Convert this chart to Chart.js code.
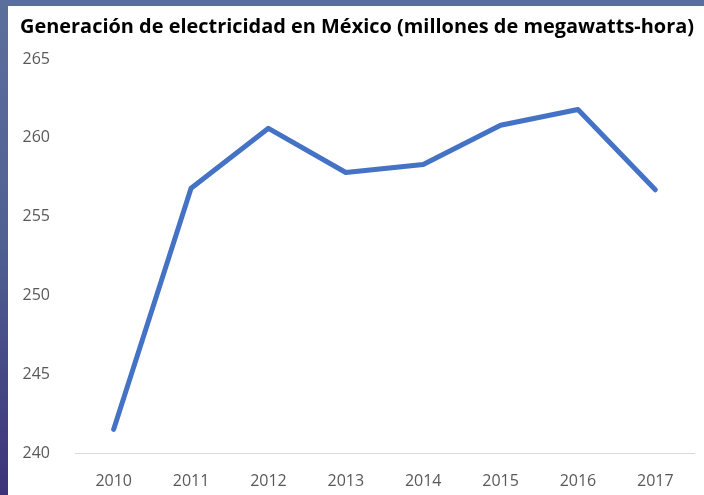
<!DOCTYPE html>
<html>
<head>
<meta charset="utf-8">
<script src="https://cdn.jsdelivr.net/npm/chart.js@4"></script>
<style>
  html, body { margin: 0; padding: 0; }
  body {
    width: 704px; height: 495px; overflow: hidden;
    background: linear-gradient(to bottom, #5b6f9c 0%, #4f5f92 50%, #3d337a 100%);
    position: relative;
  }
  #panel {
    position: absolute; left: 8px; top: 6px; width: 696px; height: 489px;
    background: #ffffff;
  }
  canvas { display: block; }
</style>
</head>
<body>
<div id="panel"><canvas id="c" width="696" height="489"></canvas></div>
<script>
const categories = ['2010', '2011', '2012', '2013', '2014', '2015', '2016', '2017'];
const generation = [241.5, 256.8, 260.6, 257.8, 258.3, 260.8, 261.8, 256.7];
const yTicks = [240, 245, 250, 255, 260, 265];
const titleText = 'Generación de electricidad en México (millones de megawatts-hora)';

new Chart(document.getElementById('c'), {
  type: 'line',
  data: {
    labels: categories,
    datasets: [{
      data: generation,
      borderColor: '#4472C4',
      borderWidth: 5,
      pointRadius: 0,
      tension: 0,
      borderCapStyle: 'round',
      borderJoinStyle: 'round',
      fill: false
    }]
  },
  options: {
    responsive: false,
    animation: false,
    layout: { padding: { left: 12, right: 10, top: 0, bottom: 0 } },
    plugins: {
      legend: { display: false },
      tooltip: { enabled: false },
      title: {
        display: true,
        text: titleText,
        align: 'start',
        color: '#000000',
        font: { family: 'Open Sans', size: 20, weight: 'bold' },
        padding: { top: 9, bottom: 20 }
      }
    },
    scales: {
      x: {
        offset: true,
        grid: { display: false, drawTicks: false },
        border: { display: true, color: '#d9d9d9', width: 1 },
        afterFit: (s) => { s.height = 42; },
        ticks: {
          color: '#595959',
          font: { family: 'Open Sans', size: 16 },
          padding: 19,
          maxRotation: 0,
          autoSkip: false
        }
      },
      y: {
        min: 240,
        max: 265,
        afterBuildTicks: (s) => { s.ticks = yTicks.map(v => ({ value: v })); },
        afterFit: (s) => { s.width = 55; },
        grid: { display: false, drawTicks: false },
        border: { display: false },
        ticks: {
          color: '#595959',
          font: { family: 'Open Sans', size: 16 },
          padding: 25
        }
      }
    }
  }
});
</script>
</body>
</html>
